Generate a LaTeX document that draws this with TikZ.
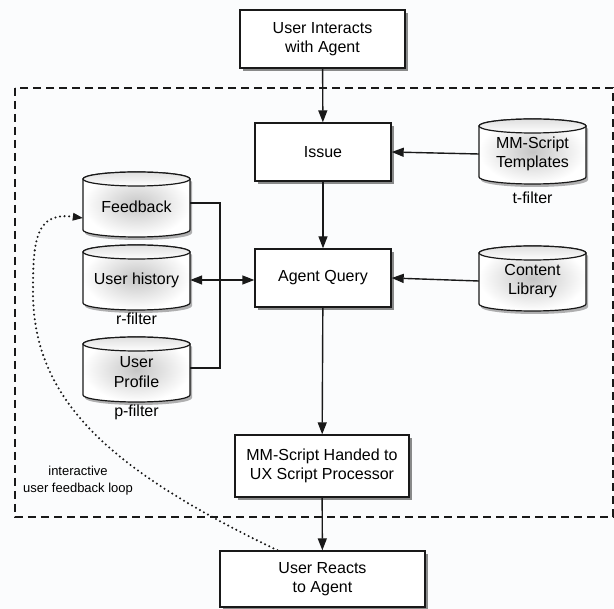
\documentclass[tikz,border=0pt]{standalone}
\usepackage{fontspec}
\setmainfont{Liberation Sans}
\usetikzlibrary{arrows.meta,shadows}
\definecolor{bgcol}{RGB}{251,252,253}
\definecolor{ink}{RGB}{25,25,25}
\tikzset{
  lw/.style={line width=1.4pt, draw=ink},
  box/.style={lw, fill=white, align=center, inner sep=2pt,
    font=\fontsize{16}{19.5}\selectfont,
    drop shadow={shadow xshift=3pt, shadow yshift=-3pt, opacity=0.45, fill=black}},
  cyltext/.style={align=center, inner sep=0pt, minimum width=107pt, minimum height=65pt,
    font=\fontsize{16}{19.5}\selectfont},
  lbl/.style={font=\fontsize{16}{19.5}\selectfont, inner sep=1pt},
  small/.style={font=\fontsize{13}{17}\selectfont, align=center, inner sep=1pt},
  conn/.style={lw, -{Triangle[length=12pt,width=9pt]}},
  dconn/.style={lw, {Triangle[length=12pt,width=9pt]}-{Triangle[length=12pt,width=9pt]}},
  plain/.style={line width=1.2pt, draw=ink},
  frame/.style={line width=1.5pt, draw=ink, dash pattern=on 8pt off 5pt},
  loop/.style={line width=2.3pt, draw=ink, dash pattern=on 0pt off 4.6pt, line cap=round,
    -{Triangle[length=10pt,width=8pt,line width=0pt]}},
}
\newcommand\dbcyl[4]{%
  \begin{scope}[shift={(#2,#3)}]
    \fill[black, opacity=0.3, shift={(2pt,-3pt)}]
      (-53.5,25.5) -- (-53.5,-25.5) arc[start angle=180,end angle=360,x radius=53.5,y radius=7]
      -- (53.5,25.5) arc[start angle=0,end angle=180,x radius=53.5,y radius=7] -- cycle;
    \path[plain, inner color=gray!45, outer color=white]
      (-53.5,25.5) -- (-53.5,-25.5) arc[start angle=180,end angle=360,x radius=53.5,y radius=7]
      -- (53.5,25.5) arc[start angle=0,end angle=180,x radius=53.5,y radius=7] -- cycle;
    \path[plain, top color=gray!25, bottom color=white]
      (-53.5,25.5) arc[start angle=180,end angle=360,x radius=53.5,y radius=7]
      arc[start angle=0,end angle=180,x radius=53.5,y radius=7] -- cycle;
  \end{scope}
  \node[cyltext] (#1) at (#2,#3-2.5) {#4};
}
\begin{document}
\begin{tikzpicture}[x=1pt,y=1pt]
\useasboundingbox (0,0) rectangle (614,-609);
\fill[bgcol] (0,0) rectangle (614,-609);

% dashed frame
\draw[frame] (15,-88) rectangle (613,-517);

% boxes
\node[box, minimum width=165pt, minimum height=58pt] (interact) at (322.5,-39) {User Interacts\\with Agent};
\node[box, minimum width=136pt, minimum height=58pt] (issue) at (323,-152) {Issue};
\node[box, minimum width=136pt, minimum height=58pt] (query) at (323,-278) {Agent Query};
\node[box, minimum width=174pt, minimum height=62pt] (handed) at (322,-466) {MM-Script Handed to\\UX Script Processor};
\node[box, minimum width=205pt, minimum height=56pt] (reacts) at (322.5,-579) {User Reacts\\to Agent};

% databases
\dbcyl{templates}{532.5}{-151.5}{MM-Script\\Templates}
\dbcyl{content}{532.5}{-278.5}{Content\\Library}
\dbcyl{feedback}{136.5}{-204.5}{Feedback}
\dbcyl{history}{136.5}{-277.5}{User history}
\dbcyl{profile}{136.5}{-369.5}{User\\Profile}

% filter labels
\node[lbl] (tfilter) at (532.5,-198) {t-filter};
\node[lbl] (rfilter) at (136.5,-319) {r-filter};
\node[lbl] (pfilter) at (136.5,-412) {p-filter};
\node[small] (looplbl) at (78,-481) {interactive\\user feedback loop};

% connectors
\draw[conn] (interact) -- (issue);
\draw[conn] (issue) -- (query);
\draw[conn] (templates.west) -- (issue.east);
\draw[conn] (content.west) -- (query.east);
\draw[conn] (query) -- (handed);
\draw[conn] (handed) -- (reacts);
\coordinate (jx) at (220,-280);
\draw[dconn] (history.east) -- (history.east -| query.west);
\draw[plain] ([yshift=4pt]feedback.east) -- ([yshift=4pt]feedback.east -| jx) |- ([yshift=4pt]profile.east);

% feedback loop
\draw[loop] ([xshift=-45pt]reacts.north) .. controls (110,-470) and (32,-400) .. (33,-290)
  .. controls (33,-240) and (36,-212) .. ([yshift=-11pt]feedback.west);
\end{tikzpicture}
\end{document}
